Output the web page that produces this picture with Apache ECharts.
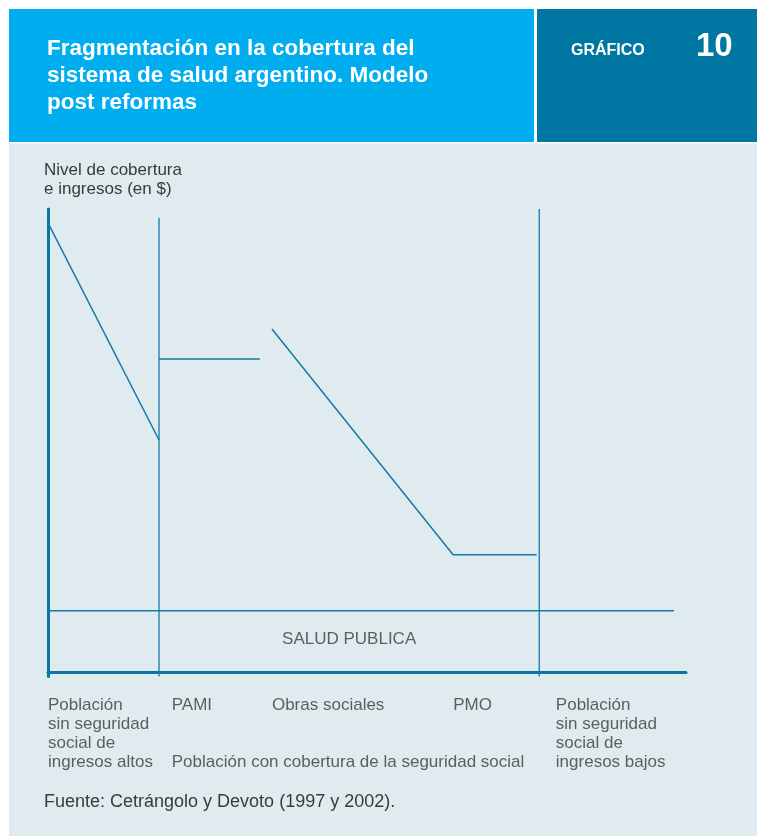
<!DOCTYPE html>
<html>
<head>
<meta charset="utf-8">
<script src="https://cdn.jsdelivr.net/npm/echarts@6/dist/echarts.min.js"></script>
<style>
  html, body { margin: 0; padding: 0; background: #fff; }
  #chart { width: 757px; height: 836px; }
</style>
</head>
<body>
<div id="chart"></div>
<script>
// datos del esquema (escala 0-100 en ambos ejes)
var segAltos = [[0, 97.0], [17.4, 50.1]];          // poblacion sin seguridad social de ingresos altos
var segPami = [[17.4, 67.6], [33.2, 67.6]];        // PAMI
var segObras = [[35.1, 74.1], [63.5, 25.3], [76.6, 25.3]]; // obras sociales -> PMO
var segSaludPublica = [[0, 13.2], [98.1, 13.2]];
var divPami = [[17.4, -1], [17.4, 98.1]];
var divBajos = [[77.0, -1], [77.0, 100]];

var catNames = ['Población\nsin seguridad\nsocial de\ningresos altos', 'PAMI', 'Obras sociales', 'PMO', 'Población\nsin seguridad\nsocial de\ningresos bajos'];
var catX = [0, 19.4, 35.1, 63.5, 79.6];

var lineColor = '#1679a8';
var axisColor = '#0b76a3';
var textColor = '#3a3a3a';
var font = '"Liberation Sans", Arial, sans-serif';

var chart = echarts.init(document.getElementById('chart'));

function seg(data, w) {
  return {
    type: 'line',
    data: data,
    symbol: 'none',
    silent: true,
    lineStyle: { color: lineColor, width: w || 1.5 },
    z: 3
  };
}

var catData = catNames.map(function(n, i) {
  return { value: [catX[i], -1], name: n };
});

var option = {
  backgroundColor: '#ffffff',
  animation: false,
  graphic: [
    { type: 'rect', shape: { x: 9, y: 9, width: 525, height: 133 }, style: { fill: '#00aeef' }, z: -10 },
    { type: 'rect', shape: { x: 537, y: 9, width: 220, height: 133 }, style: { fill: '#0077a2' }, z: -10 },
    { type: 'rect', shape: { x: 9, y: 143.5, width: 748, height: 693 }, style: { fill: '#e0ebf0' }, z: -10 },
    { type: 'text', left: 571, top: 43, style: { text: 'GRÁFICO', fill: '#ffffff', font: 'bold 16px ' + font } },
    { type: 'text', left: 696, top: 30, style: { text: '10', fill: '#ffffff', font: 'bold 33px ' + font } },
    { type: 'text', left: 44, top: 793, style: { text: 'Fuente: Cetrángolo y Devoto (1997 y 2002).', fill: textColor, font: '18px ' + font } }
  ],
  title: {
    text: 'Fragmentación en la cobertura del\nsistema de salud argentino. Modelo\npost reformas',
    left: 42,
    top: 30,
    textStyle: { color: '#ffffff', fontFamily: font, fontWeight: 'bold', fontSize: 22.5, lineHeight: 27 }
  },
  grid: { left: 48, right: 71, top: 209, bottom: 159.4 },
  xAxis: {
    type: 'value', min: 0, max: 100,
    axisLine: { show: true, onZero: true, lineStyle: { color: axisColor, width: 3 } },
    axisTick: { show: false }, axisLabel: { show: false }, splitLine: { show: false }
  },
  yAxis: {
    type: 'value', min: -1, max: 100,
    name: 'Nivel de cobertura\ne ingresos (en $)',
    nameLocation: 'end',
    nameGap: 10,
    nameTextStyle: { color: textColor, fontFamily: font, fontSize: 17, lineHeight: 19, align: 'left', verticalAlign: 'bottom', padding: [0, 0, 0, -4] },
    axisLine: { show: true, onZero: false, lineStyle: { color: axisColor, width: 3 } },
    axisTick: { show: false }, axisLabel: { show: false }, splitLine: { show: false }
  },
  series: [
    seg(segAltos), seg(segPami), seg(segObras), seg(segSaludPublica),
    seg(divPami, 1.3), seg(divBajos, 1.3),
    {
      type: 'scatter', symbolSize: 0, silent: true,
      data: catData,
      label: {
        show: true, position: [0, 19], align: 'left', verticalAlign: 'top',
        formatter: function(p) { return p.name; },
        color: textColor, fontFamily: font, fontSize: 17, lineHeight: 19
      }
    },
    {
      type: 'scatter', symbolSize: 0, silent: true,
      data: [{ value: [19.4, -1], name: 'Población con cobertura de la seguridad social' }],
      label: {
        show: true, position: [0, 76], align: 'left', verticalAlign: 'top',
        formatter: function(p) { return p.name; },
        color: textColor, fontFamily: font, fontSize: 17, lineHeight: 19
      }
    },
    {
      type: 'scatter', symbolSize: 0, silent: true,
      data: [{ value: [47.2, 7.1], name: 'SALUD PUBLICA' }],
      label: {
        show: true, position: 'inside', align: 'center', verticalAlign: 'middle',
        formatter: function(p) { return p.name; },
        color: textColor, fontFamily: font, fontSize: 17
      }
    }
  ]
};

chart.setOption(option);
</script>
</body>
</html>
